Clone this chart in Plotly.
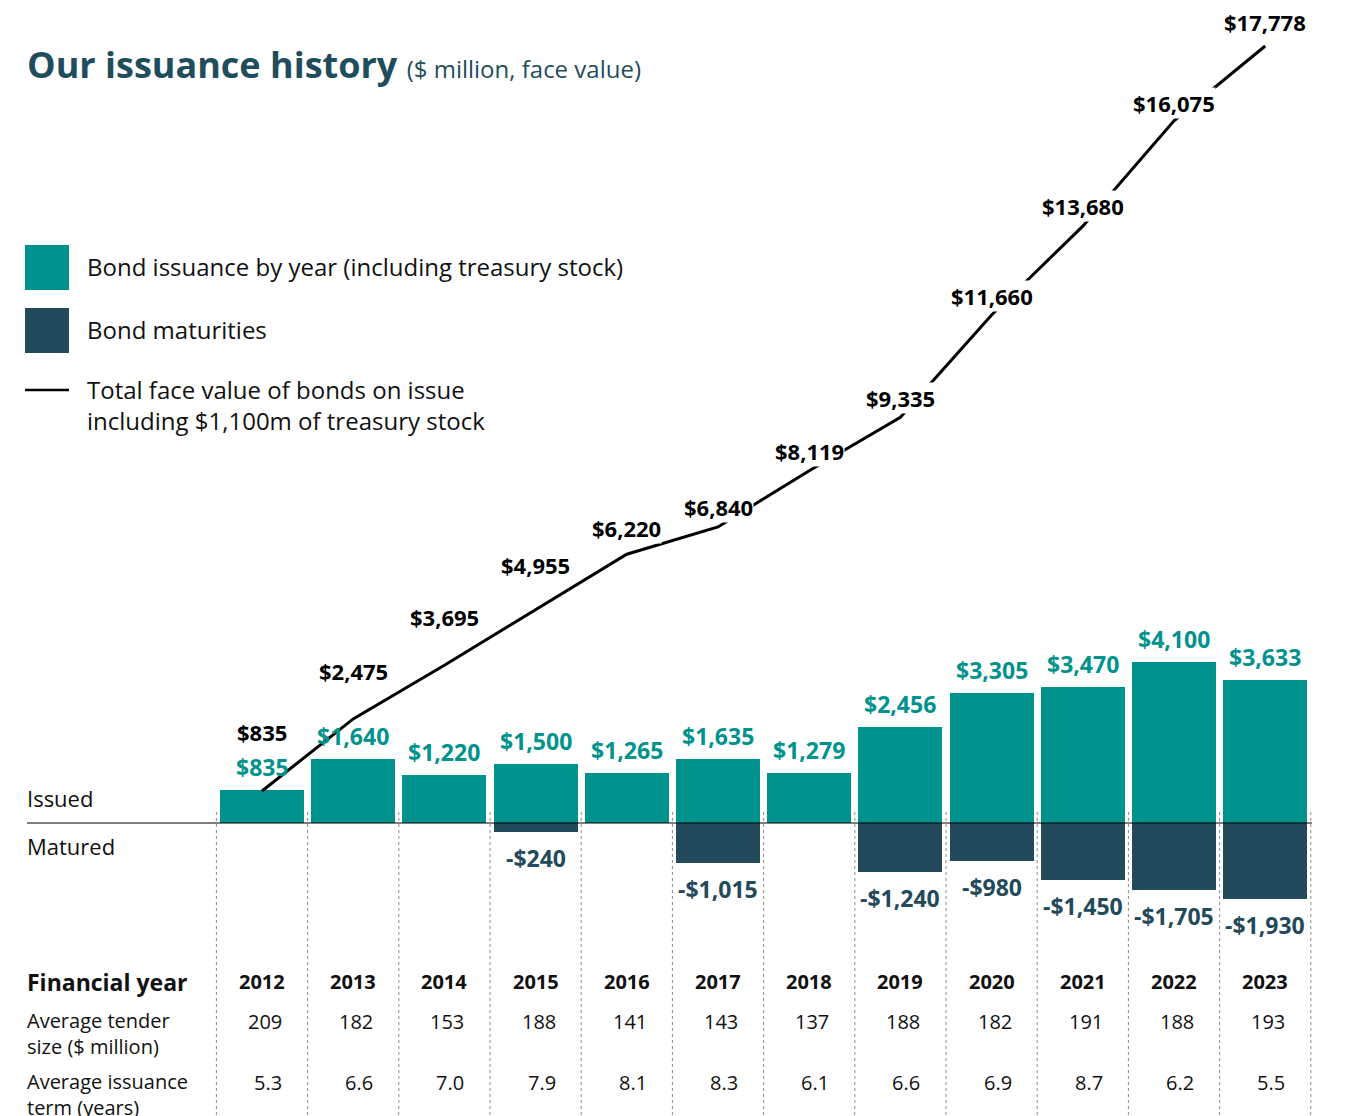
import plotly.graph_objects as go

# data
years = [2012, 2013, 2014, 2015, 2016, 2017, 2018, 2019, 2020, 2021, 2022, 2023]
issued = [835, 1640, 1220, 1500, 1265, 1635, 1279, 2456, 3305, 3470, 4100, 3633]
matured = [0, 0, 0, -240, 0, -1015, 0, -1240, -980, -1450, -1705, -1930]
total_on_issue = [835, 2475, 3695, 4955, 6220, 6840, 8119, 9335, 11660, 13680, 16075, 17778]
tender_size = ['209', '182', '153', '188', '141', '143', '137', '188', '182', '191', '188', '193']
issuance_term = ['5.3', '6.6', '7.0', '7.9', '8.1', '8.3', '6.1', '6.6', '6.9', '8.7', '6.2', '5.5']

OFF = 8  # page body margin
W, H = 1345 - OFF, 1116 - OFF
TEAL = '#00938d'
DARK = '#234a5a'
TITLE = '#1f4d5c'
FONT = 'Open Sans'

# lift of the total labels above the line (early years clear the bar labels)
line_lbl_lift = [59, 48, 48, 45, 26, 20, 20, 19, 19, 20, 18, 24]


def px(x):
    return (x - OFF) / W


def py(y):
    return 1 - (y - OFF) / H


fig = go.Figure()

fig.add_trace(go.Bar(x=years, y=issued, marker=dict(color=TEAL, line=dict(width=0)),
                     width=0.92, hoverinfo='skip', showlegend=False))
fig.add_trace(go.Bar(x=years, y=matured, marker=dict(color=DARK, line=dict(width=0)),
                     width=0.92, hoverinfo='skip', showlegend=False))
fig.add_trace(go.Scatter(x=years, y=total_on_issue, yaxis='y2', mode='lines',
                         line=dict(color='black', width=3), hoverinfo='skip',
                         showlegend=False))

ann = []
shapes = []

# bar labels
for yr, v in zip(years, issued):
    ann.append(dict(x=yr, y=v, xref='x', yref='y', text='$' + f'{v:,}', showarrow=False,
                    yshift=23, font=dict(family=FONT, size=23, color=TEAL, weight='bold')))
for yr, v in zip(years, matured):
    if v < 0:
        ann.append(dict(x=yr, y=v, xref='x', yref='y', text='-$' + f'{-v:,}', showarrow=False,
                        yshift=-26, font=dict(family=FONT, size=23, color=DARK, weight='bold')))
for yr, v, lift in zip(years, total_on_issue, line_lbl_lift):
    ann.append(dict(x=yr, y=v, xref='x', yref='y2', text='$' + f'{v:,}', showarrow=False,
                    yshift=lift, bgcolor='white', borderpad=0,
                    font=dict(family=FONT, size=22, color='black', weight='bold')))

# title
ann.append(dict(x=px(25), y=py(65), xref='paper', yref='paper', xanchor='left', yanchor='middle',
                showarrow=False,
                text='<b>Our issuance history</b> <span style="font-size:24px">($ million, face value)</span>',
                font=dict(family=FONT, size=36, color=TITLE)))

# legend
shapes.append(dict(type='rect', xref='paper', yref='paper', x0=px(25), x1=px(69), y0=py(245), y1=py(290),
                   fillcolor=TEAL, line=dict(width=0)))
shapes.append(dict(type='rect', xref='paper', yref='paper', x0=px(25), x1=px(69), y0=py(308), y1=py(353),
                   fillcolor=DARK, line=dict(width=0)))
shapes.append(dict(type='line', xref='paper', yref='paper', x0=px(25), x1=px(69), y0=py(390), y1=py(390),
                   line=dict(color='black', width=2.5)))
for txt, yy in [('Bond issuance by year (including treasury stock)', 266),
                ('Bond maturities', 329),
                ('Total face value of bonds on issue<br>including $1,100m of treasury stock', 405)]:
    ann.append(dict(x=px(85), y=py(yy), xref='paper', yref='paper', xanchor='left', yanchor='middle',
                    align='left', showarrow=False, text=txt, font=dict(family=FONT, size=24, color='#111')))

# issued / matured axis labels
ann.append(dict(x=px(25), y=py(798), xref='paper', yref='paper', xanchor='left', yanchor='middle',
                showarrow=False, text='Issued', font=dict(family=FONT, size=22, color='#111')))
ann.append(dict(x=px(25), y=py(846), xref='paper', yref='paper', xanchor='left', yanchor='middle',
                showarrow=False, text='Matured', font=dict(family=FONT, size=22, color='#111')))

# zero line
shapes.append(dict(type='line', xref='paper', yref='y', x0=px(27), x1=px(1312), y0=0, y1=0,
                   line=dict(color='black', width=1.2)))

# dotted column separators
for i in range(len(years) + 1):
    xb = years[0] - 0.5 + i
    shapes.append(dict(type='line', xref='x', yref='paper', x0=xb, x1=xb, y0=py(812), y1=0,
                       line=dict(color='#8a8a8a', width=1, dash='dot'), layer='below'))

# table
ann.append(dict(x=px(25), y=py(982), xref='paper', yref='paper', xanchor='left', yanchor='middle',
                showarrow=False, text='<b>Financial year</b>', font=dict(family=FONT, size=23, color='#111')))
for txt, yy in [('Average tender<br>size ($ million)', 1033),
                ('Average issuance<br>term (years)', 1094)]:
    ann.append(dict(x=px(25), y=py(yy), xref='paper', yref='paper', xanchor='left', yanchor='middle',
                    align='left', showarrow=False, text=txt, font=dict(family=FONT, size=20, color='#111')))
for yr, ts, it in zip(years, tender_size, issuance_term):
    ann.append(dict(x=yr, y=py(982), xref='x', yref='paper', yanchor='middle', showarrow=False,
                    text='<b>' + str(yr) + '</b>', font=dict(family=FONT, size=20, color='#111')))
    ann.append(dict(x=yr, y=py(1021), xref='x', yref='paper', xanchor='right', yanchor='middle',
                    xshift=22, showarrow=False, text=ts, font=dict(family=FONT, size=20, color='#111')))
    ann.append(dict(x=yr, y=py(1082), xref='x', yref='paper', xanchor='right', yanchor='middle',
                    xshift=22, showarrow=False, text=it, font=dict(family=FONT, size=20, color='#111')))

step = 91.2
x_first = 262 - OFF
fig.update_layout(
    width=W, height=H,
    margin=dict(l=0, r=0, t=0, b=0),
    paper_bgcolor='white', plot_bgcolor='white',
    barmode='relative', bargap=0,
    xaxis=dict(range=[2012 - x_first / step, 2012 + (W - x_first) / step], visible=False, fixedrange=True),
    yaxis=dict(range=[-(H - (823 - OFF)) / 0.03927, (823 - OFF) / 0.03927], visible=False, fixedrange=True),
    yaxis2=dict(range=[-(H - (827.7 - OFF)) / 0.04397, (827.7 - OFF) / 0.04397], overlaying='y',
                visible=False, fixedrange=True),
    annotations=ann,
    shapes=shapes,
)

fig.write_html("out.html")
